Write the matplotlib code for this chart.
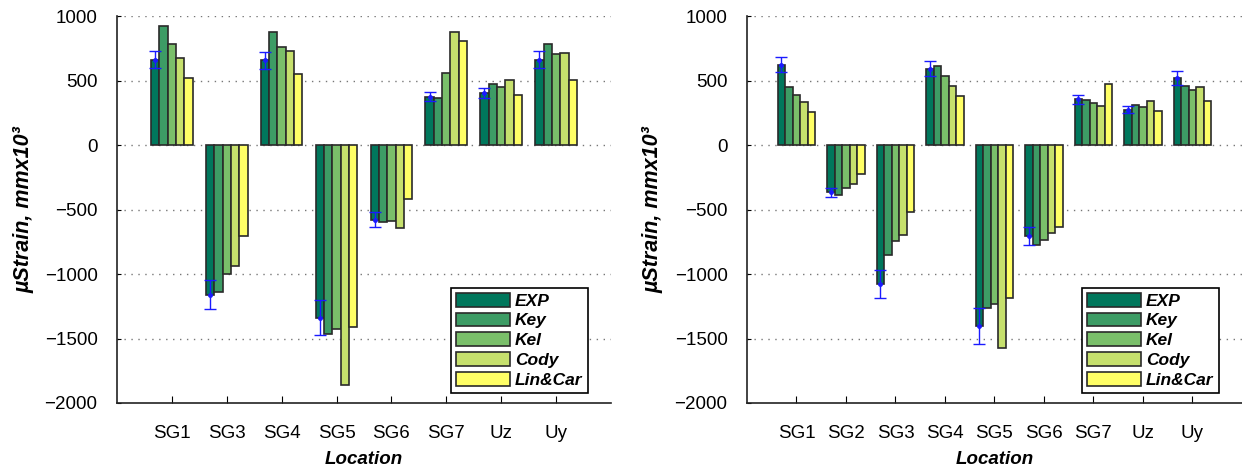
import numpy as np
import matplotlib.pyplot as plt

plt.rcParams['font.family'] = ['Liberation Sans', 'DejaVu Sans']

series = ['EXP', 'Key', 'Kel', 'Cody', 'Lin&Car']
colors = ['#00775c', '#3d9c65', '#7abf6a', '#c6e06d', '#ffff66']

# left chart
cats_a = ['SG1', 'SG3', 'SG4', 'SG5', 'SG6', 'SG7', 'Uz', 'Uy']
exp_a = [661, -1160, 656, -1338, -579, 375, 403, 661]
key_a = [920, -1140, 876, -1463, -599, 364, 475, 783]
kel_a = [785, -997, 760, -1424, -592, 561, 450, 708]
cody_a = [674, -938, 729, -1858, -646, 879, 506, 716]
lin_a = [519, -703, 548, -1411, -416, 804, 388, 506]
err_a = [65, 114, 65, 133, 57, 36, 40, 67]

# right chart
cats_b = ['SG1', 'SG2', 'SG3', 'SG4', 'SG5', 'SG6', 'SG7', 'Uz', 'Uy']
exp_b = [623, -367, -1080, 592, -1403, -705, 354, 274, 522]
key_b = [452, -388, -855, 610, -1261, -775, 349, 307, 460]
kel_b = [385, -333, -744, 532, -1230, -734, 326, 295, 426]
cody_b = [333, -300, -698, 460, -1576, -682, 302, 344, 452]
lin_b = [256, -227, -519, 380, -1189, -633, 473, 261, 341]
err_b = [60, 37, 108, 60, 140, 71, 34, 28, 53]


def draw(ax, cats, data, err):
    n = len(cats)
    x = np.arange(n)
    w = 0.152
    ax.set_axisbelow(True)
    for y in [1000, 500, 0, -500, -1000, -1500]:
        ax.axhline(y, color='#777777', linestyle=(0, (1, 4)), linewidth=1, zorder=0)
    for i, vals in enumerate(data):
        ax.bar(x + (i - 2) * w, vals, w, color=colors[i], edgecolor='#2a2a2a',
               linewidth=1.2, label=series[i], zorder=2)
    ax.errorbar(x - 2 * w, data[0], yerr=err, fmt='o', color='#1a1aff',
                markersize=2.5, capsize=4, elinewidth=1, capthick=1, zorder=3)
    ax.set_xlim(-1, n)
    ax.set_ylim(-2000, 1000)
    ax.set_yticks([1000, 500, 0, -500, -1000, -1500, -2000])
    ax.set_xticks(x)
    ax.set_xticklabels(cats)
    ax.tick_params(axis='x', direction='in', length=5, pad=16, labelsize=13.5)
    ax.tick_params(axis='y', direction='in', length=3, pad=14, labelsize=13.5)
    for s in ['top', 'right']:
        ax.spines[s].set_visible(False)
    for s in ['left', 'bottom']:
        ax.spines[s].set_color('#222222')
        ax.spines[s].set_linewidth(1.2)
    ax.set_xlabel('Location', fontsize=13.5, fontweight='bold', style='italic', labelpad=6)
    ax.set_ylabel('µStrain, mmx10³', fontsize=15.5, fontweight='bold', style='italic')
    ax.yaxis.set_label_coords(-0.168, 0.5)
    leg = ax.legend(loc='lower right', bbox_to_anchor=(0.953, 0.026), fancybox=False,
                    edgecolor='black', handlelength=3.1, handleheight=0.85,
                    prop={'weight': 'bold', 'style': 'italic', 'size': 12.5},
                    borderpad=0.3, labelspacing=0.22, handletextpad=0.3,
                    borderaxespad=0, framealpha=1)
    leg.get_frame().set_linewidth(1.2)


fig = plt.figure(figsize=(12.42, 4.73), dpi=100)
ax1 = fig.add_axes([0.0942, 0.148, 0.3977, 0.818])
ax2 = fig.add_axes([0.6014, 0.148, 0.3986, 0.818])
draw(ax1, cats_a, [exp_a, key_a, kel_a, cody_a, lin_a], err_a)
draw(ax2, cats_b, [exp_b, key_b, kel_b, cody_b, lin_b], err_b)

fig.savefig('out.png', dpi=100)
